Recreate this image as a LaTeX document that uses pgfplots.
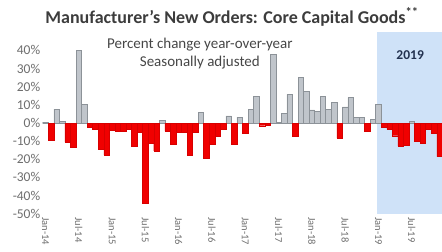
\documentclass[border=0pt]{standalone}
\usepackage{pgfplots}
\pgfplotsset{compat=1.18}
\usepackage{fontspec}
\setmainfont{Carlito}
\definecolor{titlec}{RGB}{60,60,60}
\definecolor{subc}{RGB}{70,70,70}
\definecolor{tickc}{RGB}{110,110,110}
\definecolor{yearc}{RGB}{35,50,80}
\definecolor{shadec}{RGB}{207,226,248}
\definecolor{greyfill}{RGB}{192,197,203}
\definecolor{greyedge}{RGB}{140,146,152}
\definecolor{redfill}{RGB}{240,0,0}
\definecolor{rededge}{RGB}{215,0,0}
\begin{document}
\begin{tikzpicture}
\path[use as bounding box] (-42.75bp,-38.25bp) rectangle (399.25bp,213.75bp);
\begin{axis}[
  at={(0,0)}, anchor=south west,
  scale only axis, width=399.6bp, height=181.5bp,
  xmin=-0.5, xmax=71.5, ymin=-50, ymax=50,
  axis line style={draw=none}, tick style={draw=none},
  ytick={-50,-40,-30,-20,-10,0,10,20,30,40},
  yticklabels={-50\%,-40\%,-30\%,-20\%,-10\%,0\%,10\%,20\%,30\%,40\%},
  y tick label style={font=\fontsize{13.5bp}{14bp}\selectfont, text=tickc, xshift=1bp},
  xtick={0,6,...,66},
  xticklabels={Jan-14,Jul-14,Jan-15,Jul-15,Jan-16,Jul-16,Jan-17,Jul-17,Jan-18,Jul-18,Jan-19,Jul-19},
  x tick label style={font=\fontsize{10.5bp}{11bp}\selectfont, text=tickc, rotate=-90, anchor=west},
]
% 2019 highlight band
\addplot[fill=shadec, draw=none, forget plot] coordinates {(59.7,-50) (71.6,-50) (71.6,50) (59.7,50)} -- cycle;
% positive (grey) bars
\addplot[ybar, bar width=1, bar shift=0pt, fill=greyfill, draw=greyedge, line width=0.6bp] coordinates {
(0,0.5) (2,7.7) (3,1.0) (6,40) (7,10.3) (21,1.5) (28,5.7) (33,3.9) (35,3.3)
(37,7.6) (38,14.5) (41,38) (42,0.5) (43,5.3) (44,15.8) (46,25.2) (47,17.6)
(48,7.2) (49,6.6) (50,14.5) (51,7.6) (52,11.4) (54,8.9) (55,14) (56,2.9)
(57,3.2) (59,2) (60,10.4) (66,0.8)
};
% negative (red) bars
\addplot[ybar, bar width=1, bar shift=0pt, fill=redfill, draw=rededge, line width=0.4bp] coordinates {
(1,-9.5) (4,-10.5) (5,-13.5) (8,-2.5) (9,-3.5) (10,-14.5) (11,-17.5)
(12,-4) (13,-4.5) (14,-4.5) (15,-3.5) (16,-12.7) (17,-5) (18,-44) (19,-11) (20,-15.3)
(22,-4.5) (23,-11.5) (24,-5.3) (25,-5) (26,-17.6) (27,-5) (29,-19.5) (30,-11.5)
(31,-7.5) (32,-3.5) (34,-11.5) (36,-5.7) (39,-1.5) (40,-1.2) (45,-7.2) (53,-8.4)
(58,-4.3) (61,-2.2) (62,-3.5) (63,-7) (64,-12.8) (65,-12) (67,-10.2) (68,-11)
(69,-3.3) (70,-5.5) (71,-18.5)
};
\node[font=\fontsize{15bp}{18bp}\selectfont, text=subc, align=center] at (axis cs:27.8,38.5) {Percent change year-over-year\\Seasonally adjusted};
\node[font=\fontsize{13.5bp}{15bp}\selectfont\bfseries, text=yearc] at (axis cs:65.7,37.5) {2019};
\end{axis}
\node[font=\fontsize{18bp}{20bp}\selectfont\bfseries, text=titlec] at (189.25bp,196.75bp) {Manufacturer’s New Orders: Core Capital Goods\textsuperscript{**}};
\end{tikzpicture}
\end{document}
